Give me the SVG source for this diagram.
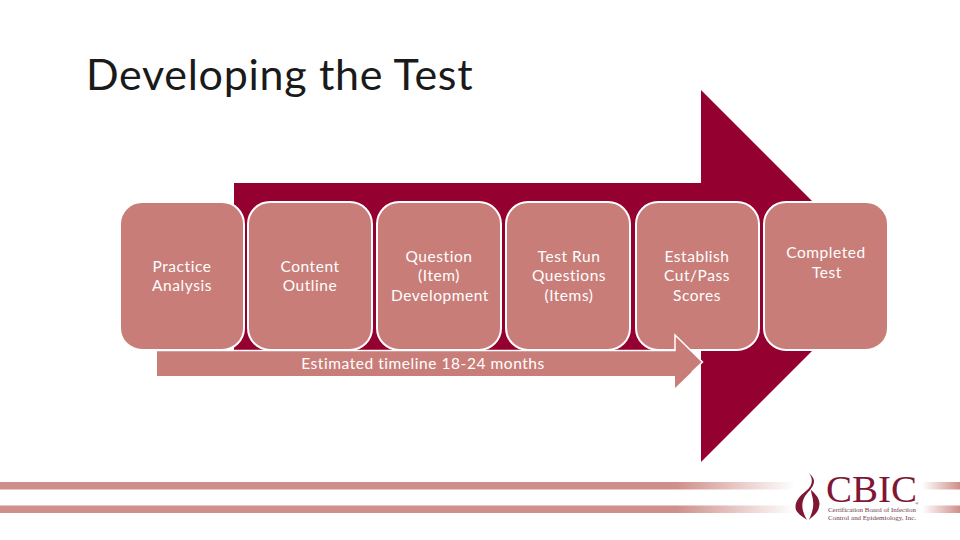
<svg xmlns="http://www.w3.org/2000/svg" width="960" height="540" viewBox="0 0 960 540">
<style>
text{font-family:"Lato","Open Sans","Liberation Sans",sans-serif;font-size:15.5px;letter-spacing:.55px;fill:#fff;text-anchor:middle}
.box{fill:#c97d78;stroke:#fff;stroke-width:2}
.title{font-size:43px;letter-spacing:.7px;fill:#1a1a1a;text-anchor:start}
.logo{font-family:"Liberation Serif",serif;letter-spacing:0;fill:#7f1734;text-anchor:start}
</style>
<defs>
<linearGradient id="sl" x1="0" x2="1" y1="0" y2="0"><stop offset="0" stop-color="#cf8f8a"/><stop offset=".85" stop-color="#cf8f8a"/><stop offset="1" stop-color="#cf8f8a" stop-opacity="0"/></linearGradient>
<linearGradient id="sr" x1="0" x2="1" y1="0" y2="0"><stop offset="0" stop-color="#cf8f8a" stop-opacity="0"/><stop offset="1" stop-color="#cf8f8a"/></linearGradient>
</defs>
<rect width="960" height="540" fill="#fff"/>
<text class="title" x="86" y="90">Developing the Test</text>
<g id="stripes">
<rect x="0" y="482" width="795" height="7.5" fill="url(#sl)"/>
<rect x="0" y="505.500" width="795" height="7.500" fill="url(#sl)"/>
<rect x="922" y="482" width="38" height="7.500" fill="url(#sr)"/>
<rect x="922" y="505.500" width="38" height="7.500" fill="url(#sr)"/>
</g>
<g id="connectors">
<path id="big-arrow" d="M234 183H701V90L887 276L701 462V351H234Z" fill="#940030"/>
</g>
<g id="node-practice"><rect class="box" x="120" y="202" width="124" height="148" rx="22"/><text x="182" y="271.500">Practice</text><text x="182" y="291">Analysis</text></g>
<g id="node-content"><rect class="box" x="248" y="202" width="124" height="148" rx="22"/><text x="310" y="271.500">Content</text><text x="310" y="291">Outline</text></g>
<g id="node-question"><rect class="box" x="377" y="202" width="124" height="148" rx="22"/><text x="439" y="261.500">Question</text><text x="439" y="281">(Item)</text><text x="440" y="300.500">Development</text></g>
<g id="node-testrun"><rect class="box" x="506" y="202" width="124" height="148" rx="22"/><text x="569" y="261.500">Test Run</text><text x="569" y="281">Questions</text><text x="569" y="300.500">(Items)</text></g>
<g id="node-establish"><rect class="box" x="636" y="202" width="123" height="148" rx="22"/><text x="697" y="261.500">Establish</text><text x="697" y="281">Cut/Pass</text><text x="697" y="300.500">Scores</text></g>
<g id="node-completed"><rect class="box" x="764" y="202" width="124" height="148" rx="22"/><text x="826" y="257.500">Completed</text><text x="827" y="277.500">Test</text></g>
<g id="timeline">
<path d="M157 351H675V335L702 362L675 388V376H157Z" fill="#c97d78"/>
<path d="M157 350.500H675V335L702.500 362L692 372" fill="none" stroke="#fff" stroke-width="1.500"/>
<text x="423" y="369">Estimated timeline 18-24 months</text>
</g>
<g id="logo">
<path d="M809 473C814 480 812 486 806 491C798 497 794 504 796 510C798 514 803 517 807 520C802 511 801 505 804 498C807 492 814 488 814 481C814 478 811 475 809 473Z" fill="#7f1734"/>
<path d="M811 490C817 495 821 501 819 507C818 513 813 516 809 520C812 513 814 507 813 501C813 497 811 494 811 490Z" fill="#7f1734"/>
<text class="logo" x="826" y="502" style="font-size:38px" textLength="91" lengthAdjust="spacingAndGlyphs">CBIC</text>
<text class="logo" x="915" y="505" style="font-size:5px">®</text>
<text class="logo" x="828" y="511.500" style="font-size:6.5px;fill:#6e3a4a" textLength="88" lengthAdjust="spacingAndGlyphs">Certification Board of Infection</text>
<text class="logo" x="828" y="520" style="font-size:6.5px;fill:#6e3a4a" textLength="88" lengthAdjust="spacingAndGlyphs">Control and Epidemiology, Inc.</text>
</g>
</svg>
